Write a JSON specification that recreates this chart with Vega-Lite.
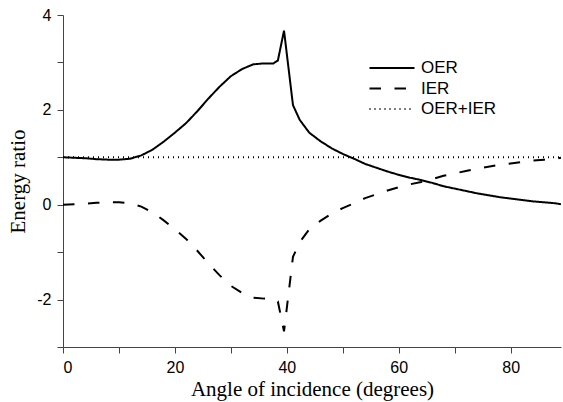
{
  "$schema": "https://vega.github.io/schema/vega-lite/v6.json",
  "autosize": "none",
  "width": 498,
  "height": 332,
  "padding": {"left": 63, "top": 15, "right": 2, "bottom": 55},
  "background": "white",
  "config": {"view": {"stroke": null}},
  "data": {"values": [
    {"a": 0, "OER": 1.00, "IER": 0.00, "OER+IER": 1},
    {"a": 2, "OER": 0.99, "IER": 0.01, "OER+IER": 1},
    {"a": 4, "OER": 0.98, "IER": 0.02, "OER+IER": 1},
    {"a": 6, "OER": 0.96, "IER": 0.04, "OER+IER": 1},
    {"a": 8, "OER": 0.95, "IER": 0.05, "OER+IER": 1},
    {"a": 10, "OER": 0.95, "IER": 0.05, "OER+IER": 1},
    {"a": 12, "OER": 0.97, "IER": 0.03, "OER+IER": 1},
    {"a": 14, "OER": 1.04, "IER": -0.04, "OER+IER": 1},
    {"a": 16, "OER": 1.16, "IER": -0.16, "OER+IER": 1},
    {"a": 18, "OER": 1.33, "IER": -0.33, "OER+IER": 1},
    {"a": 20, "OER": 1.52, "IER": -0.52, "OER+IER": 1},
    {"a": 22, "OER": 1.72, "IER": -0.72, "OER+IER": 1},
    {"a": 24, "OER": 1.97, "IER": -0.97, "OER+IER": 1},
    {"a": 26, "OER": 2.24, "IER": -1.24, "OER+IER": 1},
    {"a": 28, "OER": 2.49, "IER": -1.49, "OER+IER": 1},
    {"a": 30, "OER": 2.71, "IER": -1.71, "OER+IER": 1},
    {"a": 32, "OER": 2.86, "IER": -1.86, "OER+IER": 1},
    {"a": 34, "OER": 2.96, "IER": -1.96, "OER+IER": 1},
    {"a": 36, "OER": 2.98, "IER": -1.98, "OER+IER": 1},
    {"a": 37.6, "OER": 2.98, "IER": -1.98, "OER+IER": 1},
    {"a": 38.4, "OER": 3.04, "IER": -2.04, "OER+IER": 1},
    {"a": 39.5, "OER": 3.67, "IER": -2.67, "OER+IER": 1},
    {"a": 41.1, "OER": 2.10, "IER": -1.10, "OER+IER": 1},
    {"a": 42.3, "OER": 1.79, "IER": -0.79, "OER+IER": 1},
    {"a": 44, "OER": 1.52, "IER": -0.52, "OER+IER": 1},
    {"a": 46, "OER": 1.34, "IER": -0.34, "OER+IER": 1},
    {"a": 48, "OER": 1.19, "IER": -0.19, "OER+IER": 1},
    {"a": 50, "OER": 1.07, "IER": -0.07, "OER+IER": 1},
    {"a": 52, "OER": 0.97, "IER": 0.03, "OER+IER": 1},
    {"a": 54, "OER": 0.86, "IER": 0.14, "OER+IER": 1},
    {"a": 56, "OER": 0.78, "IER": 0.22, "OER+IER": 1},
    {"a": 58, "OER": 0.70, "IER": 0.30, "OER+IER": 1},
    {"a": 60, "OER": 0.63, "IER": 0.37, "OER+IER": 1},
    {"a": 62, "OER": 0.57, "IER": 0.43, "OER+IER": 1},
    {"a": 64, "OER": 0.52, "IER": 0.48, "OER+IER": 1},
    {"a": 66, "OER": 0.46, "IER": 0.54, "OER+IER": 1},
    {"a": 68, "OER": 0.39, "IER": 0.61, "OER+IER": 1},
    {"a": 70, "OER": 0.34, "IER": 0.66, "OER+IER": 1},
    {"a": 72, "OER": 0.29, "IER": 0.71, "OER+IER": 1},
    {"a": 74, "OER": 0.24, "IER": 0.76, "OER+IER": 1},
    {"a": 76, "OER": 0.20, "IER": 0.80, "OER+IER": 1},
    {"a": 78, "OER": 0.16, "IER": 0.84, "OER+IER": 1},
    {"a": 80, "OER": 0.13, "IER": 0.87, "OER+IER": 1},
    {"a": 82, "OER": 0.10, "IER": 0.90, "OER+IER": 1},
    {"a": 84, "OER": 0.07, "IER": 0.93, "OER+IER": 1},
    {"a": 86, "OER": 0.05, "IER": 0.95, "OER+IER": 1},
    {"a": 88, "OER": 0.03, "IER": 0.97, "OER+IER": 1},
    {"a": 89, "OER": 0.01, "IER": 0.99, "OER+IER": 1}
  ]},
  "transform": [{"fold": ["OER", "IER", "OER+IER"], "as": ["series", "value"]}],
  "mark": {"type": "line", "color": "black", "strokeCap": "butt"},
  "encoding": {
    "x": {
      "field": "a", "type": "quantitative",
      "scale": {"domain": [0, 89], "nice": false, "zero": false},
      "axis": {
        "title": "Angle of incidence (degrees)",
        "values": [0, 10, 20, 30, 40, 50, 60, 70, 80],
        "labelExpr": "datum.value % 20 === 0 ? '' + datum.value : ''",
        "grid": false, "domainColor": "#444", "tickColor": "#444", "tickSize": 6,
        "labelFont": "Liberation Sans", "labelFontSize": 16, "labelColor": "black", "labelPadding": 6,
        "titleFont": "Liberation Serif", "titleFontSize": 21, "titleFontWeight": "normal", "titleColor": "black", "titlePadding": 3
      }
    },
    "y": {
      "field": "value", "type": "quantitative",
      "scale": {"domain": [-3, 4], "nice": false, "zero": false},
      "axis": {
        "title": "Energy ratio",
        "values": [-3, -2, -1, 0, 1, 2, 3, 4],
        "labelExpr": "datum.value % 2 === 0 ? '' + datum.value : ''",
        "grid": false, "domainColor": "#444", "tickColor": "#444", "tickSize": 6,
        "labelFont": "Liberation Sans", "labelFontSize": 16, "labelColor": "black", "labelPadding": 6,
        "titleFont": "Liberation Serif", "titleFontSize": 21, "titleFontWeight": "normal", "titleColor": "black", "titlePadding": 8
      }
    },
    "detail": {"field": "series"},
    "strokeDash": {
      "field": "series", "type": "nominal",
      "scale": {"domain": ["OER", "IER", "OER+IER"], "range": [[1, 0], [11.5, 13.5], [1, 4]]},
      "legend": {
        "title": null, "orient": "none", "legendX": 320.5, "legendY": 44.5,
        "symbolType": "M-3,0H3", "symbolSize": 225, "symbolStrokeColor": "black", "symbolFillColor": "transparent",
        "labelFont": "Liberation Sans", "labelFontSize": 17, "labelColor": "black",
        "labelOffset": 20.5, "rowPadding": 2.5
      }
    },
    "strokeWidth": {
      "field": "series", "type": "nominal",
      "scale": {"domain": ["OER", "IER", "OER+IER"], "range": [2, 2, 0.8]},
      "legend": {
        "title": null, "orient": "none", "legendX": 320.5, "legendY": 44.5,
        "symbolType": "M-3,0H3", "symbolSize": 225, "symbolStrokeColor": "black", "symbolFillColor": "transparent",
        "labelFont": "Liberation Sans", "labelFontSize": 17, "labelColor": "black",
        "labelOffset": 20.5, "rowPadding": 2.5
      }
    }
  }
}
